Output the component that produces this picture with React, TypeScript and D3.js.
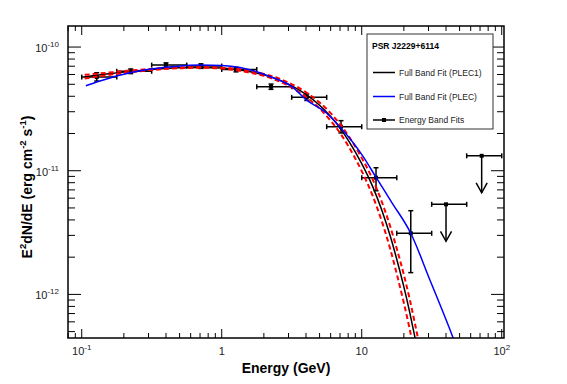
import React, { useRef, useEffect } from "react";
import * as d3 from "d3";

// energy band fits: bin edges (GeV), point energy, E^2 dN/dE (erg cm^-2 s^-1)
const binLo = [0.1, 0.178, 0.316, 0.562, 1, 1.78, 3.16, 5.62, 10, 17.8];
const binHi = [0.178, 0.316, 0.562, 1, 1.78, 3.16, 5.62, 10, 17.8, 31.6];
const pointE = [0.128, 0.224, 0.4, 0.711, 1.265, 2.25, 4.05, 7.11, 12.65, 22.4];
const pointF = [5.72e-11, 6.37e-11, 7.15e-11, 7.02e-11, 6.58e-11, 4.78e-11, 3.92e-11, 2.27e-11, 8.78e-12, 3.12e-12];
const errLo = [5.31e-11, 6.1e-11, 6.85e-11, 6.72e-11, 6.3e-11, 4.55e-11, 3.7e-11, 2.02e-11, 6.89e-12, 1.5e-12];
const errHi = [6.2e-11, 6.65e-11, 7.45e-11, 7.32e-11, 6.86e-11, 5.02e-11, 4.17e-11, 2.54e-11, 1.057e-11, 4.75e-12];

// upper limits
const ulLo = [31.6, 56.2];
const ulHi = [56.2, 100];
const ulE = [40.0, 71.9];
const ulF = [5.35e-12, 1.32e-11];

// full band fit PLEC1 and its error band
const fitE = [0.105, 0.15, 0.2, 0.3, 0.5, 0.7, 1, 1.5, 2, 3, 4, 5, 6, 7, 8, 10, 12, 14, 16, 18, 20, 22, 24, 26, 28];
const plec1F = [5.76e-11, 6.05e-11, 6.27e-11, 6.55e-11, 6.79e-11, 6.85e-11, 6.76e-11, 6.41e-11, 5.96e-11, 5.02e-11, 4.14e-11, 3.38e-11, 2.74e-11, 2.21e-11, 1.77e-11, 1.14e-11, 7.4e-12, 4.7e-12, 2.95e-12, 1.83e-12, 1.15e-12, 7.2e-13, 4.5e-13, 2.84e-13, 1.78e-13];
const bandUpF = [5.96e-11, 6.19e-11, 6.39e-11, 6.63e-11, 6.84e-11, 6.88e-11, 6.81e-11, 6.5e-11, 6.07e-11, 5.16e-11, 4.31e-11, 3.56e-11, 2.92e-11, 2.38e-11, 1.93e-11, 1.27e-11, 8.46e-12, 5.5e-12, 3.53e-12, 2.24e-12, 1.44e-12, 9.17e-13, 5.8e-13, 3.7e-13, 2.34e-13];
const bandLoF = [5.56e-11, 5.91e-11, 6.16e-11, 6.48e-11, 6.74e-11, 6.82e-11, 6.7e-11, 6.29e-11, 5.85e-11, 4.86e-11, 3.95e-11, 3.18e-11, 2.54e-11, 2.02e-11, 1.59e-11, 9.93e-12, 6.22e-12, 3.82e-12, 2.32e-12, 1.39e-12, 8.52e-13, 5.24e-13, 3.22e-13, 2.01e-13, 1.25e-13];

// full band fit PLEC
const plecE = [0.107, 0.135, 0.18, 0.28, 0.46, 0.7, 1, 1.35, 1.8, 2.25, 3.2, 4, 5.6, 7, 10.3, 12.7, 16.5, 22.4, 30.7, 44.7, 50];
const plecF = [4.87e-11, 5.31e-11, 5.86e-11, 6.52e-11, 6.96e-11, 7.15e-11, 7.09e-11, 6.83e-11, 6.28e-11, 5.72e-11, 4.75e-11, 3.76e-11, 2.93e-11, 2.26e-11, 1.29e-11, 8.78e-12, 5.48e-12, 3.12e-12, 1.307e-12, 4.52e-13, 3.2e-13];

const xMajor = [0.1, 1, 10, 100];
const xMajorExp = ["-1", "", "", "2"];
const xMajorBase = ["10", "1", "10", "10"];
const yMajor = [1e-10, 1e-11, 1e-12];
const yMajorExp = ["-10", "-11", "-12"];

const legendLabels = ["Full Band Fit (PLEC1)", "Full Band Fit (PLEC)", "Energy Band Fits"];

const FONT = "'Liberation Sans', Arial, Helvetica, sans-serif";

const App: React.FC = () => {
  const svgRef = useRef<SVGSVGElement | null>(null);

  useEffect(() => {
    if (!svgRef.current) return;
    const width = 567;
    const height = 384;
    const margin = { top: 26, right: 63, bottom: 46, left: 68 };

    const svg = d3.select(svgRef.current);
    svg.selectAll("*").remove();

    const x = d3.scaleLog().domain([0.0798, 103.8]).range([margin.left, width - margin.right]);
    const y = d3.scaleLog().domain([4.44e-13, 1.48e-10]).range([height - margin.bottom, margin.top]);
    const [x0, x1] = x.range();
    const [y0, y1] = y.range(); // y0 bottom, y1 top

    svg.append("rect").attr("width", width).attr("height", height).attr("fill", "white");

    svg.append("defs").append("clipPath").attr("id", "plot-clip")
      .append("rect").attr("x", x0).attr("y", y1).attr("width", x1 - x0).attr("height", y0 - y1);

    // ticks on all four sides, pointing inward
    const isMajor = (v: number) => Math.abs(Math.log10(v) - Math.round(Math.log10(v))) < 1e-6;
    const ticks = svg.append("g").attr("stroke", "black").attr("stroke-width", 1);
    x.ticks().forEach((v) => {
      const len = isMajor(v) ? 9 : 5;
      const px = x(v);
      ticks.append("line").attr("x1", px).attr("x2", px).attr("y1", y0).attr("y2", y0 - len);
      ticks.append("line").attr("x1", px).attr("x2", px).attr("y1", y1).attr("y2", y1 + len);
    });
    y.ticks().forEach((v) => {
      const len = isMajor(v) ? 13 : 7;
      const py = y(v);
      ticks.append("line").attr("x1", x0).attr("x2", x0 + len).attr("y1", py).attr("y2", py);
      ticks.append("line").attr("x1", x1).attr("x2", x1 - len).attr("y1", py).attr("y2", py);
    });

    // tick labels
    xMajor.forEach((v, i) => {
      const t = svg.append("text")
        .attr("x", x(v)).attr("y", y0 + 17)
        .attr("text-anchor", "middle")
        .attr("font-family", FONT).attr("font-size", 11).attr("fill", "#222");
      t.append("tspan").text(xMajorBase[i]);
      if (xMajorExp[i]) t.append("tspan").attr("dy", -5).attr("font-size", 8).text(xMajorExp[i]);
    });
    yMajor.forEach((v, i) => {
      const t = svg.append("text")
        .attr("x", x0 - 9).attr("y", y(v) + 5)
        .attr("text-anchor", "end")
        .attr("font-family", FONT).attr("font-size", 11).attr("fill", "#222");
      t.append("tspan").text("10");
      t.append("tspan").attr("dy", -5).attr("font-size", 8).text(yMajorExp[i]);
    });

    // axis titles
    svg.append("text")
      .attr("x", (x0 + x1) / 2).attr("y", 373)
      .attr("text-anchor", "middle")
      .attr("font-family", FONT).attr("font-weight", "bold").attr("font-size", 14)
      .text("Energy (GeV)");

    const yl = svg.append("text")
      .attr("transform", `translate(32,${(y0 + y1) / 2 + 5}) rotate(-90)`)
      .attr("text-anchor", "middle")
      .attr("font-family", FONT).attr("font-weight", "bold").attr("font-size", 14);
    yl.append("tspan").text("E");
    yl.append("tspan").attr("dy", -6).attr("font-size", 9.5).text("2");
    yl.append("tspan").attr("dy", 6).text("dN/dE (erg cm");
    yl.append("tspan").attr("dy", -6).attr("font-size", 9.5).text("-2");
    yl.append("tspan").attr("dy", 6).text(" s");
    yl.append("tspan").attr("dy", -6).attr("font-size", 9.5).text("-1");
    yl.append("tspan").attr("dy", 6).text(")");

    const plot = svg.append("g").attr("clip-path", "url(#plot-clip)");

    // energy band points
    const pts = plot.append("g").attr("stroke", "black").attr("stroke-width", 1.5);
    pointE.forEach((e, i) => {
      const py = y(pointF[i]);
      const px = x(e);
      pts.append("line").attr("x1", x(binLo[i])).attr("x2", x(binHi[i])).attr("y1", py).attr("y2", py);
      pts.append("line").attr("x1", x(binLo[i])).attr("x2", x(binLo[i])).attr("y1", py - 2.5).attr("y2", py + 2.5);
      pts.append("line").attr("x1", x(binHi[i])).attr("x2", x(binHi[i])).attr("y1", py - 2.5).attr("y2", py + 2.5);
      pts.append("line").attr("x1", px).attr("x2", px).attr("y1", y(errHi[i])).attr("y2", y(errLo[i]));
      pts.append("line").attr("x1", px - 2.5).attr("x2", px + 2.5).attr("y1", y(errHi[i])).attr("y2", y(errHi[i]));
      pts.append("line").attr("x1", px - 2.5).attr("x2", px + 2.5).attr("y1", y(errLo[i])).attr("y2", y(errLo[i]));
      pts.append("rect").attr("x", px - 2).attr("y", py - 2).attr("width", 4).attr("height", 4)
        .attr("fill", "black").attr("stroke", "none");
    });

    // upper limits
    ulE.forEach((e, i) => {
      const py = y(ulF[i]);
      const px = x(e);
      pts.append("line").attr("x1", x(ulLo[i])).attr("x2", x(ulHi[i])).attr("y1", py).attr("y2", py);
      pts.append("line").attr("x1", x(ulLo[i])).attr("x2", x(ulLo[i])).attr("y1", py - 2.5).attr("y2", py + 2.5);
      pts.append("line").attr("x1", x(ulHi[i])).attr("x2", x(ulHi[i])).attr("y1", py - 2.5).attr("y2", py + 2.5);
      pts.append("line").attr("x1", px).attr("x2", px).attr("y1", py).attr("y2", py + 37);
      pts.append("path").attr("fill", "none")
        .attr("d", `M${px - 5.5},${py + 27} L${px},${py + 37} L${px + 5.5},${py + 27}`);
      pts.append("rect").attr("x", px - 2).attr("y", py - 2).attr("width", 4).attr("height", 4)
        .attr("fill", "black").attr("stroke", "none");
    });

    const line = (es: number[]) =>
      d3.line<number>()
        .x((_, i) => x(es[i]))
        .y((d) => y(d))
        .curve(d3.curveMonotoneX);

    plot.append("path").datum(plec1F).attr("fill", "none").attr("stroke", "black")
      .attr("stroke-width", 1.5).attr("d", line(fitE));
    [bandUpF, bandLoF].forEach((band) => {
      plot.append("path").datum(band).attr("fill", "none").attr("stroke", "#ff0000")
        .attr("stroke-width", 2).attr("stroke-dasharray", "5,3").attr("d", line(fitE));
    });
    plot.append("path").datum(plecF).attr("fill", "none").attr("stroke", "#0000ff")
      .attr("stroke-width", 1.5).attr("d", line(plecE));

    // frame
    svg.append("rect").attr("x", x0).attr("y", y1).attr("width", x1 - x0).attr("height", y0 - y1)
      .attr("fill", "none").attr("stroke", "black").attr("stroke-width", 1.5);

    // legend
    const lg = svg.append("g").attr("transform", "translate(367,34)");
    lg.append("rect").attr("width", 126).attr("height", 95).attr("fill", "white")
      .attr("stroke", "#333").attr("stroke-width", 1);
    lg.append("text").attr("x", 5).attr("y", 15)
      .attr("font-family", FONT).attr("font-weight", "bold").attr("font-size", 8.5)
      .text("PSR J2229+6114");
    const rowsY = [38.5, 62.5, 86];
    const rowColors = ["black", "#0000ff", "black"];
    legendLabels.forEach((label, i) => {
      lg.append("line").attr("x1", 6).attr("x2", 28).attr("y1", rowsY[i]).attr("y2", rowsY[i])
        .attr("stroke", rowColors[i]).attr("stroke-width", 1.5);
      if (i === 2) {
        lg.append("rect").attr("x", 15).attr("y", rowsY[i] - 2).attr("width", 4).attr("height", 4).attr("fill", "black");
      }
      lg.append("text").attr("x", 32).attr("y", rowsY[i] + 3)
        .attr("font-family", FONT).attr("font-size", 8.5).attr("fill", "#222")
        .text(label);
    });
  }, []);

  return (
    <svg
      ref={svgRef}
      width={567}
      height={384}
      style={{ position: "absolute", left: 0, top: 0, display: "block" }}
    />
  );
};

export default App;
